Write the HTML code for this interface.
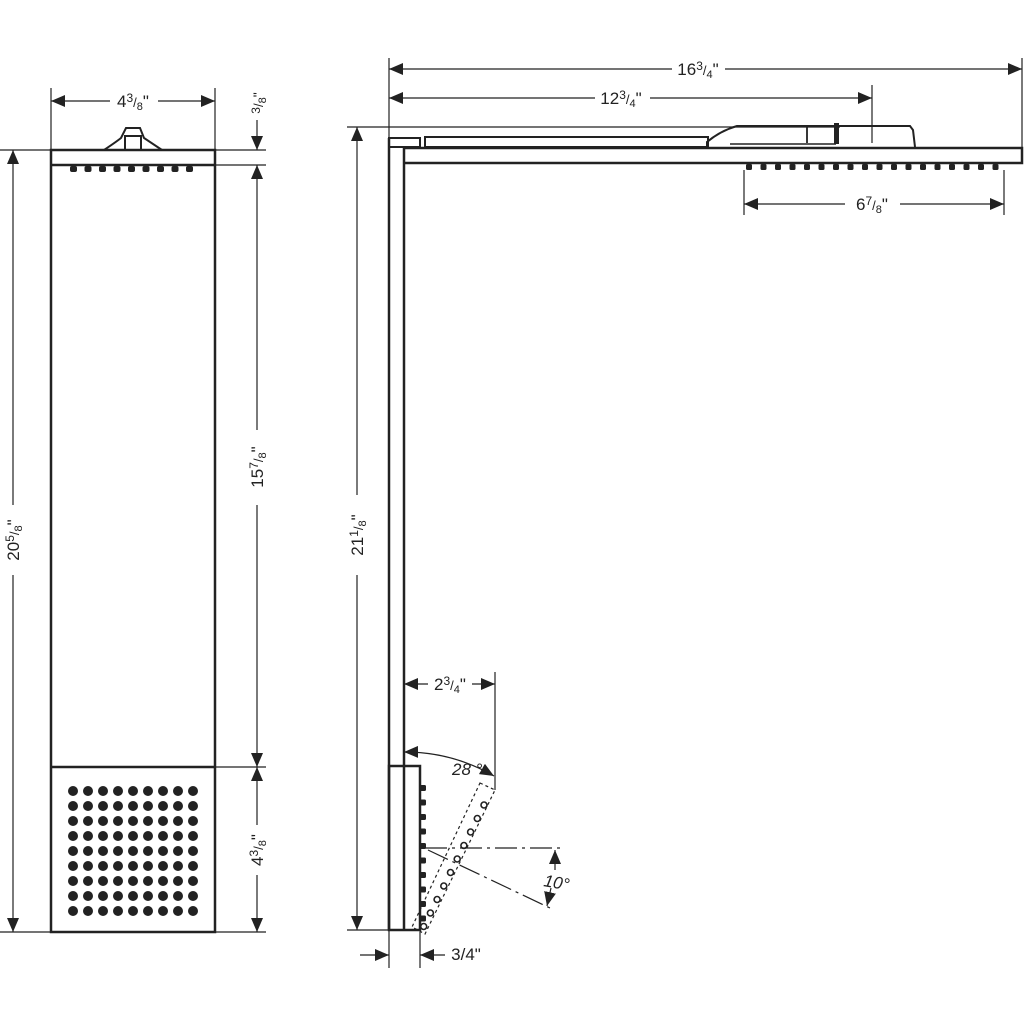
<!DOCTYPE html>
<html><head><meta charset="utf-8"><style>
html,body{margin:0;padding:0;background:#fff}
svg{display:block}
text{font-family:"Liberation Sans",sans-serif;fill:#222;font-size:17px}
</style></head><body>
<svg width="1024" height="1024" viewBox="0 0 1024 1024" xmlns="http://www.w3.org/2000/svg">
<defs>
<marker id="a" viewBox="0 0 14 12" refX="14" refY="6" markerWidth="14" markerHeight="12" markerUnits="userSpaceOnUse" orient="auto-start-reverse"><path d="M0,0 L14,6 L0,12 z" fill="#222"/></marker>
</defs>
<g stroke="#222" fill="none" stroke-width="1.2">
<line x1="51" y1="88" x2="51" y2="150"/><line x1="215" y1="88" x2="215" y2="150"/>
<line x1="0" y1="150" x2="51" y2="150"/><line x1="215" y1="150" x2="266" y2="150"/>
<line x1="215" y1="165" x2="266" y2="165"/>
<line x1="215" y1="767" x2="266" y2="767"/>
<line x1="0" y1="932" x2="51" y2="932"/><line x1="215" y1="932" x2="266" y2="932"/>
<line x1="51" y1="101" x2="110" y2="101" marker-start="url(#a)"/><line x1="158" y1="101" x2="215" y2="101" marker-end="url(#a)"/>
<line x1="257" y1="120" x2="257" y2="150" marker-end="url(#a)"/>
<line x1="257" y1="165" x2="257" y2="430" marker-start="url(#a)"/><line x1="257" y1="505" x2="257" y2="767" marker-end="url(#a)"/>
<line x1="257" y1="767" x2="257" y2="825" marker-start="url(#a)"/><line x1="257" y1="875" x2="257" y2="932" marker-end="url(#a)"/>
<line x1="13" y1="150" x2="13" y2="505" marker-start="url(#a)"/><line x1="13" y1="575" x2="13" y2="932" marker-end="url(#a)"/>
</g>
<g stroke="#222" fill="none" stroke-width="2.5">
<rect x="51" y="150" width="164" height="782"/>
<line x1="51" y1="165" x2="215" y2="165"/>
<line x1="51" y1="767" x2="215" y2="767"/>
<path d="M104,150 Q116,142 121,138 L126,128 L140,128 L144,138 Q150,142 162,150" stroke-width="2"/>
<path d="M125,150 L125,136 L141,136 L141,150" stroke-width="2"/>
</g>
<g fill="#222" id="tn1"></g>
<g fill="#222" id="dots"></g>
<text x="133" y="107" text-anchor="middle">4<tspan font-size="12" dy="-5">3</tspan><tspan font-size="13" dy="5">/</tspan><tspan font-size="11" dy="3">8</tspan><tspan dy="-3">"</tspan></text>
<text transform="translate(263,103) rotate(-90)" text-anchor="middle"><tspan font-size="12" dy="-3">3</tspan><tspan font-size="13" dy="3">/</tspan><tspan font-size="11" dy="3">8</tspan><tspan font-size="14" dy="-3">"</tspan></text>
<text transform="translate(263,467) rotate(-90)" text-anchor="middle">15<tspan font-size="12" dy="-5">7</tspan><tspan font-size="13" dy="5">/</tspan><tspan font-size="11" dy="3">8</tspan><tspan dy="-3">"</tspan></text>
<text transform="translate(263,850) rotate(-90)" text-anchor="middle">4<tspan font-size="12" dy="-5">3</tspan><tspan font-size="13" dy="5">/</tspan><tspan font-size="11" dy="3">8</tspan><tspan dy="-3">"</tspan></text>
<text transform="translate(19,540) rotate(-90)" text-anchor="middle">20<tspan font-size="12" dy="-5">5</tspan><tspan font-size="13" dy="5">/</tspan><tspan font-size="11" dy="3">8</tspan><tspan dy="-3">"</tspan></text>

<g stroke="#222" fill="none" stroke-width="1.2">
<line x1="389" y1="58" x2="389" y2="138"/><line x1="1022" y1="58" x2="1022" y2="148"/>
<line x1="872" y1="85" x2="872" y2="143"/>
<line x1="347" y1="127" x2="840" y2="127"/>
<line x1="744" y1="170" x2="744" y2="215"/><line x1="1004" y1="170" x2="1004" y2="215"/>
<line x1="389" y1="69" x2="672" y2="69" marker-start="url(#a)"/><line x1="725" y1="69" x2="1022" y2="69" marker-end="url(#a)"/>
<line x1="389" y1="98" x2="595" y2="98" marker-start="url(#a)"/><line x1="650" y1="98" x2="872" y2="98" marker-end="url(#a)"/>
<line x1="744" y1="204" x2="845" y2="204" marker-start="url(#a)"/><line x1="900" y1="204" x2="1004" y2="204" marker-end="url(#a)"/>
<line x1="357" y1="127" x2="357" y2="495" marker-start="url(#a)"/><line x1="357" y1="575" x2="357" y2="930" marker-end="url(#a)"/>
<line x1="347" y1="930" x2="389" y2="930"/>
<line x1="404" y1="684" x2="428" y2="684" marker-start="url(#a)"/><line x1="472" y1="684" x2="495" y2="684" marker-end="url(#a)"/>
<line x1="495" y1="672" x2="495" y2="790"/>
<path d="M404,752 A178,178 0 0 1 494,776" marker-start="url(#a)" marker-end="url(#a)"/>
<line x1="389" y1="930" x2="389" y2="968"/><line x1="420" y1="932" x2="420" y2="968"/>
<line x1="360" y1="955" x2="389" y2="955" marker-end="url(#a)"/>
<line x1="420" y1="955" x2="445" y2="955" marker-start="url(#a)"/>
<path d="M425,848 L565,848" stroke-dasharray="22,5,3,5"/>
<path d="M428,850 L550,908" stroke-dasharray="22,5,3,5"/>
<line x1="555" y1="850" x2="555" y2="870" marker-start="url(#a)"/>
<line x1="551" y1="888" x2="547" y2="906" marker-end="url(#a)"/>
<path d="M480,783 L495,790 L425,934 L412,927 Z" stroke-dasharray="3,3"/>
</g>
<g stroke="#222" fill="none" stroke-width="2.5">
<line x1="389" y1="138" x2="389" y2="930"/>
<line x1="404" y1="148" x2="404" y2="766"/>
<rect x="389" y="138" width="31" height="9" stroke-width="2"/>
<rect x="425" y="137" width="283" height="10" stroke-width="2"/>
<path d="M404,148 L1022,148 L1022,163 L404,163"/>
<path d="M707,147 L707,142 Q720,131 737,126 L910,126 L913,130 L915,147" stroke-width="2"/>
<line x1="807" y1="126" x2="807" y2="143" stroke-width="1.8"/>
<line x1="730" y1="144" x2="836" y2="144" stroke-width="1.5"/>
<rect x="389" y="766" width="31" height="164"/>
<line x1="404" y1="766" x2="404" y2="930"/>
</g>
<rect x="834" y="123" width="5" height="21" fill="#222"/>
<g fill="#222" id="nz"></g>
<g fill="none" stroke="#222" stroke-width="1.6" id="tn"></g>
<text x="621" y="104" text-anchor="middle">12<tspan font-size="12" dy="-5">3</tspan><tspan font-size="13" dy="5">/</tspan><tspan font-size="11" dy="3">4</tspan><tspan dy="-3">"</tspan></text>
<text x="698" y="75" text-anchor="middle">16<tspan font-size="12" dy="-5">3</tspan><tspan font-size="13" dy="5">/</tspan><tspan font-size="11" dy="3">4</tspan><tspan dy="-3">"</tspan></text>
<text x="872" y="210" text-anchor="middle">6<tspan font-size="12" dy="-5">7</tspan><tspan font-size="13" dy="5">/</tspan><tspan font-size="11" dy="3">8</tspan><tspan dy="-3">"</tspan></text>
<text transform="translate(363,535) rotate(-90)" text-anchor="middle">21<tspan font-size="12" dy="-5">1</tspan><tspan font-size="13" dy="5">/</tspan><tspan font-size="11" dy="3">8</tspan><tspan dy="-3">"</tspan></text>
<text x="450" y="690" text-anchor="middle">2<tspan font-size="12" dy="-5">3</tspan><tspan font-size="13" dy="5">/</tspan><tspan font-size="11" dy="3">4</tspan><tspan dy="-3">"</tspan></text>
<text x="466" y="960" text-anchor="middle" font-size="15">3/4"</text>
<text x="452" y="775" font-style="italic" font-size="18">28 °</text>
<text x="543" y="886" font-style="italic" font-size="18" transform="rotate(10 543 886)">10°</text>
</svg>
<script>
var ns="http://www.w3.org/2000/svg",g=document.getElementById("dots");
for(var i=0;i<9;i++)for(var j=0;j<9;j++){var c=document.createElementNS(ns,"circle");c.setAttribute("cx",73+15*i);c.setAttribute("cy",791+15*j);c.setAttribute("r",5);g.appendChild(c);}
var t1=document.getElementById("tn1");
for(var k=0;k<9;k++){var r=document.createElementNS(ns,"rect");r.setAttribute("x",70+14.5*k);r.setAttribute("y",166);r.setAttribute("width",7);r.setAttribute("height",6);r.setAttribute("rx",2);t1.appendChild(r);}
var n=document.getElementById("nz");
for(var x=746;x<1004;x+=14.5){var r=document.createElementNS(ns,"rect");r.setAttribute("x",x);r.setAttribute("y",164);r.setAttribute("width",6);r.setAttribute("height",6);r.setAttribute("rx",1.5);n.appendChild(r);}
for(var y=785;y<925;y+=14.5){var r=document.createElementNS(ns,"rect");r.setAttribute("x",420);r.setAttribute("y",y);r.setAttribute("width",6);r.setAttribute("height",6);r.setAttribute("rx",1.5);n.appendChild(r);}
var t=document.getElementById("tn");
for(var k=0;k<10;k++){var cx=484-6.7*k,cy=805+13.5*k;var c=document.createElementNS(ns,"circle");c.setAttribute("cx",cx);c.setAttribute("cy",cy);c.setAttribute("r",3);t.appendChild(c);}
</script>
</body></html>
